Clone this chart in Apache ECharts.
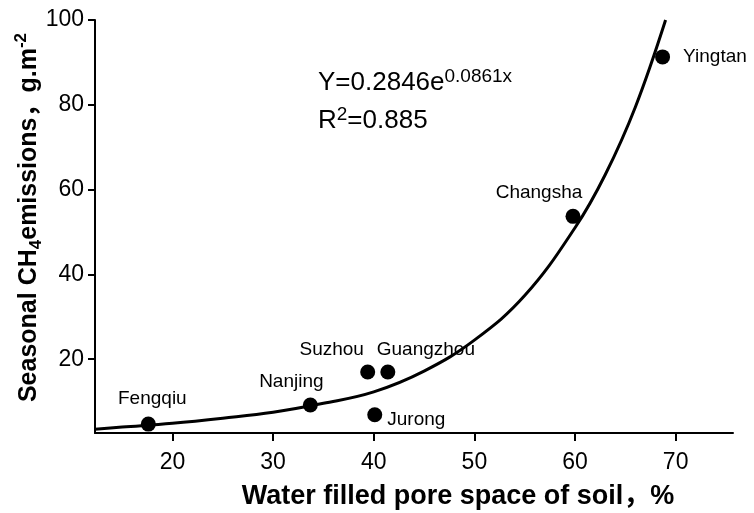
<!DOCTYPE html>
<html><head><meta charset="utf-8">
<script src="https://cdn.jsdelivr.net/npm/echarts@6/dist/echarts.min.js"></script>
<style>html,body{margin:0;padding:0;background:#fff}#c{width:754px;height:513px}</style>
</head><body><div id="c"></div>
<script>
// Sites and measured values
const sites = ['Fengqiu', 'Nanjing', 'Suzhou', 'Guangzhou', 'Jurong', 'Changsha', 'Yingtan'];
const wfps = [17.6, 33.7, 39.4, 41.4, 40.1, 59.8, 68.7];
const ch4 = [4.7, 9.2, 17.0, 17.0, 6.9, 53.7, 91.3];
// Fitted curve
const fitX = [12.3, 15, 20, 25, 30, 35, 40, 45, 50, 55, 60, 63, 66, 69];
const fitY = [3.5, 4.0, 4.9, 6.1, 7.5, 9.6, 12.3, 17.2, 24.5, 35, 51, 63.5, 79.5, 100];
// Tick labels
const xTicks = [20, 30, 40, 50, 60, 70];
const yTicks = [20, 40, 60, 80, 100];
// Label placement (layout only)
const labelLayout = {
  Fengqiu: {position: 'top', offset: [4, -3]},
  Nanjing: {position: 'top', offset: [-19, -1]},
  Suzhou: {position: 'top', offset: [-36, 0]},
  Guangzhou: {position: 'top', offset: [38, 0]},
  Jurong: {position: 'right', offset: [0, 5]},
  Changsha: {position: 'top', offset: [-34, -2]},
  Yingtan: {position: 'right', offset: [8, 0]}
};
const FONT = '"Liberation Sans", Arial, "Noto Sans CJK SC", sans-serif';
const chart = echarts.init(document.getElementById('c'), null, {renderer: 'canvas'});
const scatterData = sites.map((s, i) => ({
  value: [wfps[i], ch4[i]], name: s,
  label: Object.assign({show: true, formatter: s}, labelLayout[s])
}));
chart.setOption({
  animation: false,
  backgroundColor: '#fff',
  textStyle: {fontFamily: FONT},
  grid: {left: 95, right: 21, top: 20, bottom: 80, containLabel: false, outerBoundsMode: 'none'},
  xAxis: {
    type: 'value', min: 12.3, max: 75.7,
    name: 'Water filled pore space of soil，%',
    nameLocation: 'middle', nameGap: 50, nameMoveOverlap: false,
    nameTextStyle: {fontSize: 27, fontWeight: 'bold', color: '#000', fontFamily: FONT, padding: [0, 0, 0, 88]},
    axisLine: {lineStyle: {color: '#000', width: 2}},
    axisTick: {customValues: xTicks, length: 8, lineStyle: {color: '#000', width: 2}},
    axisLabel: {customValues: xTicks, fontSize: 23, color: '#000', margin: 18, fontFamily: FONT},
    splitLine: {show: false}
  },
  yAxis: {
    type: 'value', min: 2.6, max: 100,
    name: 'Seasonal CH{sub|4}emissions，g.m{sup|-2}',
    nameLocation: 'middle', nameGap: 50, nameRotate: 90, nameMoveOverlap: false,
    nameTextStyle: {
      fontSize: 25, fontWeight: 'bold', color: '#000', fontFamily: FONT, lineHeight: 32,
      padding: [0, 0, 0, 18],
      rich: {
        sub: {fontSize: 17, fontWeight: 'bold', color: '#000', fontFamily: FONT, lineHeight: 17, verticalAlign: 'bottom'},
        sup: {fontSize: 17, fontWeight: 'bold', color: '#000', fontFamily: FONT, lineHeight: 17, verticalAlign: 'top'}
      }
    },
    axisLine: {show: true, lineStyle: {color: '#000', width: 2}},
    axisTick: {show: true, customValues: yTicks, length: 7, lineStyle: {color: '#000', width: 2}},
    axisLabel: {customValues: yTicks, fontSize: 23, color: '#000', margin: 11, fontFamily: FONT},
    splitLine: {show: false}
  },
  graphic: [
    {type: 'text', left: 318, top: 67, style: {
      text: 'Y=0.2846e{sup|0.0861x}', fill: '#000', fontSize: 26, fontFamily: FONT, lineHeight: 32,
      rich: {sup: {fontSize: 19, fill: '#000', fontFamily: FONT, lineHeight: 19, verticalAlign: 'top'}}
    }},
    {type: 'text', left: 318, top: 105, style: {
      text: 'R{sup|2}=0.885', fill: '#000', fontSize: 26, fontFamily: FONT, lineHeight: 32,
      rich: {sup: {fontSize: 19, fill: '#000', fontFamily: FONT, lineHeight: 19, verticalAlign: 'top'}}
    }}
  ],
  series: [
    {
      type: 'line', data: fitX.map((x, i) => [x, fitY[i]]), smooth: 0.4,
      showSymbol: false, symbol: 'none', lineStyle: {color: '#000', width: 3}, z: 2
    },
    {
      type: 'scatter', data: scatterData, symbolSize: 15,
      itemStyle: {color: '#000', opacity: 1},
      label: {show: true, fontSize: 19, color: '#000', fontFamily: FONT, distance: 5},
      z: 3
    }
  ]
});
</script>
</body></html>
